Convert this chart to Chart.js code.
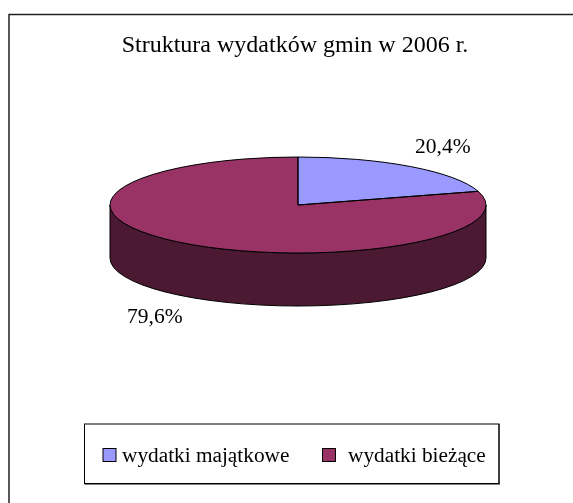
<!DOCTYPE html>
<html><head><meta charset="utf-8">
<style>html,body{margin:0;padding:0;background:#fff}canvas{display:block}</style>
<script src="https://cdn.jsdelivr.net/npm/chart.js@4"></script>
</head><body><canvas id="c" width="573" height="503"></canvas>
<script>
const titleText = 'Struktura wydatków gmin w 2006 r.';
const categories = ['wydatki majątkowe', 'wydatki bieżące'];
const values = [20.4, 79.6];
const valueLabels = ['20,4%', '79,6%'];
const sliceColors = ['#9999FF', '#993366'];
const sideColor = '#4C1933';
const serif = '"Liberation Serif", serif';

const view = {cx: 298, cy: 205, rx: 188, ry: 48, depth: 53};

const pie3d = {
  id: 'pie3d',
  beforeDraw(chart) {
    const c = chart.ctx;
    c.save();
    c.fillStyle = '#fff'; c.fillRect(0, 0, 573, 503);
    c.strokeStyle = '#222'; c.lineWidth = 1.5;
    c.beginPath(); c.moveTo(9, 503); c.lineTo(9, 14.5); c.lineTo(573, 14.5); c.stroke();
    c.restore();
  },
  beforeDatasetsDraw(chart) {
    const c = chart.ctx, {cx, cy, rx, ry, depth} = view;
    const arc = chart.getDatasetMeta(0).data[0];
    // side wall
    c.save();
    c.beginPath();
    c.ellipse(cx, cy + depth, rx, ry, 0, 0, Math.PI, false);
    c.lineTo(cx - rx, cy);
    c.ellipse(cx, cy, rx, ry, 0, Math.PI, 0, true);
    c.closePath();
    c.fillStyle = sideColor; c.fill();
    c.strokeStyle = '#000'; c.lineWidth = 1; c.stroke();
    c.restore();
    // squash the library-drawn pie into the ellipse
    c.save();
    c.translate(cx - arc.x, cy);
    c.scale(1, ry / rx);
    c.translate(0, -arc.y);
  },
  afterDatasetsDraw(chart) {
    const c = chart.ctx, {cx, cy, rx, ry} = view;
    c.restore();
    const arcs = chart.getDatasetMeta(0).data;
    c.save();
    c.strokeStyle = '#000'; c.lineWidth = 1;
    arcs.forEach(a => {
      c.beginPath();
      c.moveTo(cx, cy);
      c.ellipse(cx, cy, rx, ry, 0, a.startAngle, a.endAngle, false);
      c.closePath();
      c.stroke();
    });
    c.restore();
    // value labels
    c.save();
    c.fillStyle = '#000';
    c.font = '21.5px ' + serif;
    c.textBaseline = 'alphabetic';
    c.fillText(valueLabels[0], 415, 153);
    c.fillText(valueLabels[1], 127, 323);
    // legend
    c.font = '21.3px ' + serif;
    const L = 84.5, T = 424, R = 499, B = 484;
    c.strokeStyle = '#808080'; c.lineWidth = 2;
    c.beginPath(); c.moveTo(R, T); c.lineTo(R, B); c.lineTo(L, B); c.stroke();
    c.strokeStyle = '#000'; c.lineWidth = 1;
    c.strokeRect(L, T, R - L, B - T - 0.5);
    [[103, 122], [322.5, 348]].forEach(([bx, tx], i) => {
      c.fillStyle = sliceColors[i];
      c.fillRect(bx, 448.5, 13, 13);
      c.strokeStyle = '#000'; c.lineWidth = 1;
      c.strokeRect(bx, 448.5, 13, 13);
      c.fillStyle = '#000';
      c.fillText(categories[i], tx, 462);
    });
    c.restore();
  }
};

new Chart(document.getElementById('c'), {
  type: 'pie',
  data: {
    labels: categories,
    datasets: [{
      data: values,
      backgroundColor: sliceColors,
      borderWidth: 0,
      radius: view.rx,
      clip: false
    }]
  },
  options: {
    responsive: false,
    animation: false,
    layout: {padding: {left: 17}},
    plugins: {
      legend: {display: false},
      tooltip: {enabled: false},
      title: {
        display: true,
        text: titleText,
        color: '#000',
        padding: {top: 31, bottom: 10},
        font: {family: serif, size: 24, weight: 'normal'}
      }
    }
  },
  plugins: [pie3d]
});
</script></body></html>
